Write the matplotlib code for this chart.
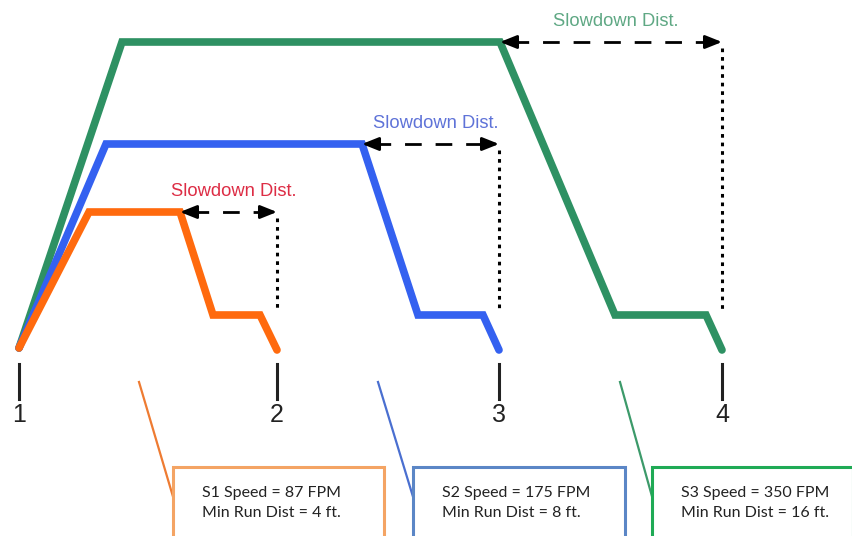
import matplotlib
matplotlib.use('Agg')
import matplotlib.pyplot as plt

# speed profiles, drawn in picture units (x = distance, y = down is slower)
orange_x = [19, 89, 180, 213, 260, 277]
orange_y = [348, 212, 212, 315, 315, 350]
blue_x = [19, 106, 362, 418, 483, 499]
blue_y = [348, 144, 144, 315, 315, 350]
green_x = [19, 122, 500, 615, 706, 722]
green_y = [348, 42, 42, 315, 315, 350]

stop_x = [19, 277, 499, 722]
stop_labels = ['1', '2', '3', '4']

box_texts = ['S1 Speed = 87 FPM\nMin Run Dist = 4 ft.',
             'S2 Speed = 175 FPM\nMin Run Dist = 8 ft.',
             'S3 Speed = 350 FPM\nMin Run Dist = 16 ft.']
box_left = [173, 413, 652]
box_right = [384, 625, 853]

line_colors = ['#ff6a0e', '#3461f0', '#2e9163']
label_colors = ['#dd2d45', '#5f73d8', '#5fa884']
box_colors = ['#f4a464', '#5b86c6', '#1faa55']
pointer_colors = ['#ee7b32', '#4a6fd0', '#3c9a6a']

fig = plt.figure(figsize=(8.53, 5.36), dpi=100)
ax = fig.add_axes([0, 0, 1, 1])
ax.set_xlim(0, 853)
ax.set_ylim(536, 0)
ax.axis('off')

profiles = [(orange_x, orange_y), (blue_x, blue_y), (green_x, green_y)]
for (xs, ys), c in list(zip(profiles, line_colors))[::-1]:
    ax.plot(xs, ys, color=c, lw=5.5, solid_joinstyle='miter', solid_capstyle='round')

for (xs, ys), lc in zip(profiles, label_colors):
    x0, x1, y = xs[2], xs[5], ys[2]
    ax.plot([x0 + 12, x1 - 12], [y, y], color='black', lw=2, dashes=(6, 5))
    ax.annotate('', xy=(x0, y), xytext=(x0 + 16, y),
                arrowprops=dict(arrowstyle='-|>,head_length=1.0,head_width=0.4',
                                color='black', lw=2, shrinkA=0, shrinkB=0))
    ax.annotate('', xy=(x1, y), xytext=(x1 - 16, y),
                arrowprops=dict(arrowstyle='-|>,head_length=1.0,head_width=0.4',
                                color='black', lw=2, shrinkA=0, shrinkB=0))
    ax.plot([x1, x1], [y + 6, 312], color='black', lw=2.2, dashes=(1.2, 1.6))
    ax.text((x0 + x1) / 2 + 5, y - 21, 'Slowdown Dist.', color=lc, ha='center', va='center',
            fontsize=13.2, family='Liberation Sans')

for x, lab in zip(stop_x, stop_labels):
    ax.plot([x, x], [364, 399], color='#222222', lw=2.2)
    ax.text(x, 415, lab, ha='center', va='center', fontsize=18, family='Liberation Sans',
            color='#222222')

pointer_top = [(139, 382), (378, 382), (620, 382)]
for (px, py), l, r, t, bc, pc in zip(pointer_top, box_left, box_right, box_texts,
                                      box_colors, pointer_colors):
    ax.plot([px, l + 1], [py, 500], color=pc, lw=1.6)
    ax.add_patch(plt.Rectangle((l, 467), r - l, 80, fill=True, facecolor='white',
                               edgecolor=bc, lw=2.2, zorder=3))
    ax.text(l + 29, 503, t, ha='left', va='center', fontsize=11.5, family='Lato',
            color='#222222', linespacing=1.5, zorder=4)

fig.savefig('out.png', dpi=100)
